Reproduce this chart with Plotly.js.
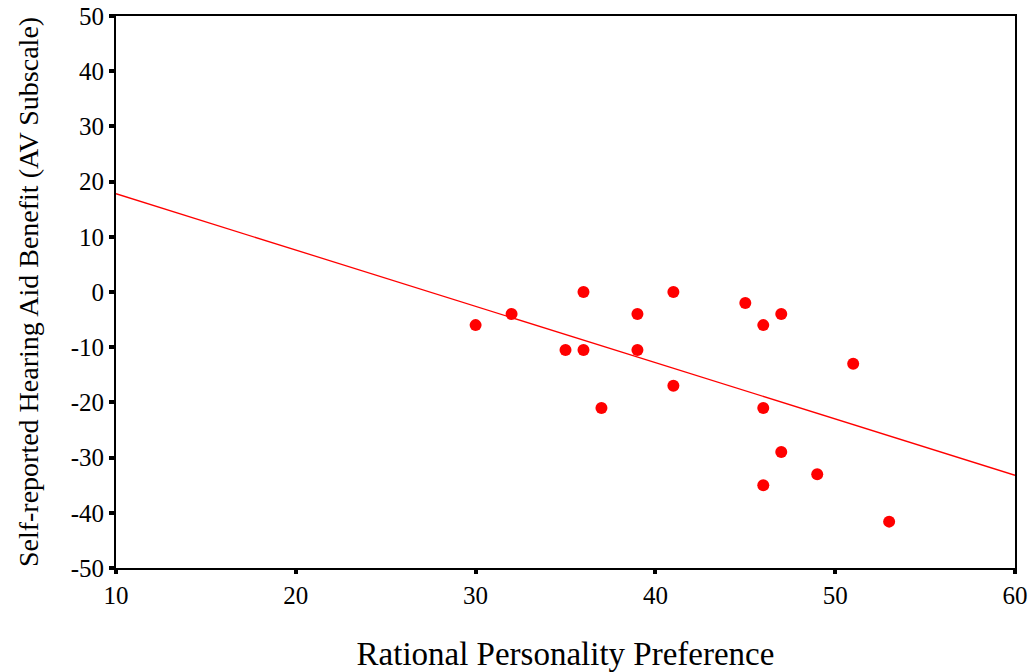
<!DOCTYPE html>
<html>
<head>
<meta charset="utf-8">
<script src="https://cdn.plot.ly/plotly-3.0.1.min.js"></script>
<style>html,body{margin:0;padding:0;background:#fff;}#chart{width:1030px;height:672px;}</style>
</head>
<body>
<div id="chart"></div>
<script>
// Data
const personality = [30, 32, 35, 36, 36, 37, 39, 39, 41, 41, 45, 46, 47, 46, 51, 47, 49, 46, 53];
const avBenefit   = [-6, -4, -10.5, -10.5, 0, -21, -4, -10.5, 0, -17, -2, -6, -4, -21, -13, -29, -33, -35, -41.6];
// Fitted regression line endpoints
const fitX = [10, 60];
const fitY = [17.8, -33.2];
const xTicks = [10, 20, 30, 40, 50, 60];
const yTicks = [-50, -40, -30, -20, -10, 0, 10, 20, 30, 40, 50];

const font = "Liberation Serif, Times New Roman, serif";

const traces = [
  {x: fitX, y: fitY, type: 'scatter', mode: 'lines', line: {color: '#ff0000', width: 1.3}, hoverinfo: 'skip'},
  {x: personality, y: avBenefit, type: 'scatter', mode: 'markers', marker: {color: '#ff0000', size: 12, line: {width: 0}}}
];

const layout = {
  width: 1030, height: 672,
  margin: {l: 116, r: 15, t: 16, b: 104},
  paper_bgcolor: '#fff', plot_bgcolor: '#fff',
  showlegend: false,
  font: {family: font, color: '#000', size: 25},
  xaxis: {
    range: [10, 60], tickvals: xTicks, ticktext: xTicks.map(String),
    showgrid: false, zeroline: false,
    showline: true, linecolor: '#000', linewidth: 2, mirror: true,
    ticks: 'outside', ticklen: 4, tickwidth: 4, tickcolor: '#000',
    tickfont: {family: font, size: 25, color: '#000'},
    title: {text: 'Rational Personality Preference', font: {family: font, size: 33, color: '#000'}, standoff: 38}
  },
  yaxis: {
    range: [-50, 50], tickvals: yTicks, ticktext: yTicks.map(String),
    showgrid: false, zeroline: false,
    showline: true, linecolor: '#000', linewidth: 2, mirror: true,
    ticks: 'outside', ticklen: 5, tickwidth: 4, tickcolor: '#000',
    tickfont: {family: font, size: 25, color: '#000'},
    title: {text: 'Self-reported Hearing Aid Benefit (AV Subscale)', font: {family: font, size: 28, color: '#000'}, standoff: 24}
  }
};

Plotly.newPlot('chart', traces, layout, {displayModeBar: false, staticPlot: true});
</script>
</body>
</html>
